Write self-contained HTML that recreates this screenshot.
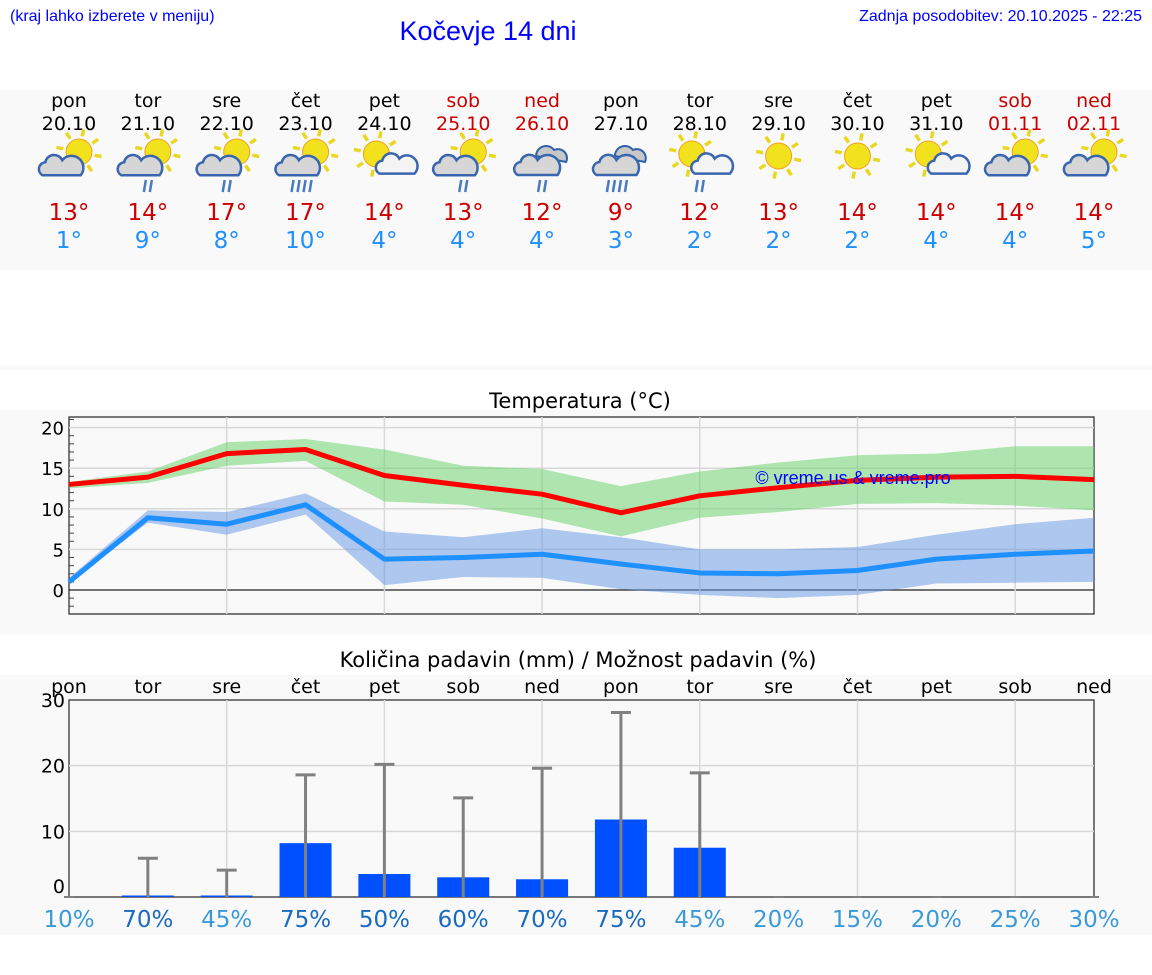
<!DOCTYPE html>
<html><head><meta charset="utf-8">
<style>
body{margin:0;background:#fff;font-family:"DejaVu Sans","Liberation Sans",sans-serif;}
#root{position:relative;width:1152px;height:975px;overflow:hidden;background:#fff;}
</style></head>
<body>
<div id="root">
<svg id="svg" width="1152" height="975" xmlns="http://www.w3.org/2000/svg" font-family="DejaVu Sans, Liberation Sans, sans-serif"></svg>
</div>
<script>
const days=['pon','tor','sre','čet','pet','sob','ned','pon','tor','sre','čet','pet','sob','ned'];
const dates=['20.10','21.10','22.10','23.10','24.10','25.10','26.10','27.10','28.10','29.10','30.10','31.10','01.11','02.11'];
const icons=['pc','pcr','pcr','pcr2','sc','pcr','cr','cr2','scr','s','s','sc','pc','pc'];
const maxT=[13.0,13.9,16.8,17.3,14.1,12.9,11.8,9.5,11.6,12.6,13.5,13.9,14.0,13.6];
const maxHi=[13.3,14.6,18.2,18.6,17.3,15.3,14.9,12.8,14.6,15.7,16.6,16.8,17.7,17.7];
const maxLo=[12.5,13.2,15.3,15.9,10.9,10.5,8.8,6.6,8.9,9.6,10.6,10.7,10.4,9.8];
const minT=[1.0,8.9,8.1,10.5,3.8,4.0,4.4,3.2,2.1,2.0,2.4,3.8,4.4,4.8];
const minHi=[1.5,9.8,9.6,11.9,7.2,6.5,7.6,6.5,5.0,5.0,5.3,6.8,8.1,8.9];
const minLo=[0.8,8.3,6.8,9.3,0.6,1.6,1.5,0.1,-0.6,-1.0,-0.6,0.8,0.9,1.0];
const hiLabels=['13°','14°','17°','17°','14°','13°','12°','9°','12°','13°','14°','14°','14°','14°'];
const loLabels=['1°','9°','8°','10°','4°','4°','4°','3°','2°','2°','2°','4°','4°','5°'];
const precip=[0,0.1,0.1,8.2,3.5,3.0,2.7,11.8,7.5,0,0,0,0,0];
const precipMax=[0,5.9,4.1,18.6,20.2,15.1,19.6,28.1,18.9,0,0,0,0,0];
const chance=[10,70,45,75,50,60,70,75,45,20,15,20,25,30];
const tTicks=[0,5,10,15,20];
const pTicks=[0,10,20,30];

const S=document.getElementById('svg');const NS='http://www.w3.org/2000/svg';
function el(t,a,p){const e=document.createElementNS(NS,t);for(const k in a)e.setAttribute(k,a[k]);(p||S).appendChild(e);return e;}
function tx(x,y,s,size,fill,anchor,name,fam){const e=el('text',{x:x,y:y,'font-size':size,fill:fill,'text-anchor':anchor||'middle'});if(fam)e.setAttribute('font-family',fam);e.textContent=s;

return e;}
const X0=69,X1=1094,DX=(X1-X0)/13;
const xd=i=>X0+i*DX;
const ty=v=>590-v*8.12;
const py=v=>897-v*6.567;
const LS='Liberation Sans, sans-serif';

tx(10,21,'(kraj lahko izberete v meniju)',16,'#0000ff','start','location-menu-hint',LS);
tx(488,40,'Kočevje 14 dni',27,'#0000ff','middle','page-title',LS);
tx(1142,21,'Zadnja posodobitev: 20.10.2025 - 22:25',16,'#0000ff','end','last-update',LS);
el('rect',{x:0,y:90,width:1152,height:180,fill:'#f9f9f9'});
el('rect',{x:0,y:365,width:1152,height:5,fill:'#f9f9f9'});
el('rect',{x:0,y:410,width:1152,height:225,fill:'#f9f9f9'});
el('rect',{x:0,y:675,width:1152,height:260,fill:'#f9f9f9'});

function icon(g,type,cx,cy){
  const sun=type.startsWith('p')||type.startsWith('s');
  const cloud=type!=='s';
  const rain=type.includes('r');
  let sx=cx+10,sy=cy-8,sr=13;
  if(type==='s'){sx=cx;sy=cy-4;}
  if(type.startsWith('sc')){sx=cx-8;sy=cy-6;}
  if(sun){for(let k=0;k<8;k++){const a=k*Math.PI/4+0.2;el('line',{x1:sx+Math.cos(a)*(sr+3),y1:sy+Math.sin(a)*(sr+3),x2:sx+Math.cos(a)*(sr+10),y2:sy+Math.sin(a)*(sr+10),stroke:'#e8d820','stroke-width':3.5},g);}
    el('circle',{cx:sx,cy:sy,r:sr,fill:'#f2e21e',stroke:'#f0a020','stroke-width':1},g);}
  if(cloud){let ccx=cx-6,ccy=cy+6,sc=1.15;
    if(type.startsWith('sc')){ccx=cx+12;ccy=cy+6;sc=0.95;}
    if(type.startsWith('c')){ccx=cx-2;ccy=cy+5;sc=1.25;
      el('path',{d:`M${cx-6} ${cy-4} a10 10 0 0 1 18 -6 a9 9 0 0 1 12 12 z`,fill:'#c8c8c8',stroke:'#3060a8','stroke-width':2},g);}
    const w=18*sc;
    el('path',{d:`M${ccx-w} ${ccy+8*sc} a7 7 0 0 1 3 -13 a9 9 0 0 1 17 -2 a7 7 0 0 1 ${2*w-20*sc} 15 z`,fill:type.startsWith('sc')?'#f4f4f4':'#d6d6d6',stroke:'#3a66b0','stroke-width':2.5},g);}
  if(rain){const n=type.endsWith('2')?4:2;for(let k=0;k<n;k++){const rx=cx-4-(n-2)*5+k*6;el('line',{x1:rx+2,y1:cy+20,x2:rx,y2:cy+32,stroke:'#4a7ac0','stroke-width':2.5},g);}}
}
for(let i=0;i<14;i++){
  const x=xd(i);
  const we=i===5||i===6||i===12||i===13;
  tx(x,107,days[i],19,we?'#cc0000':'#000','middle','day-name');
  tx(x,130,dates[i],19,we?'#cc0000':'#000','middle','day-date');
  const g=el('g',{});
  
  
  icon(g,icons[i],x,160);
  tx(x,220,hiLabels[i],23,'#cc0000','middle','max-temp');
  tx(x,248,loLabels[i],23,'#1e90ff','middle','min-temp');
}
tx(580,408,'Temperatura (°C)',21,'#000','middle','temp-chart-title');
el('rect',{x:X0,y:417,width:X1-X0,height:197,fill:'#f9f9f9',stroke:'#222','stroke-width':1.2});
tTicks.forEach(v=>{el('line',{x1:X0,y1:ty(v),x2:X1,y2:ty(v),stroke:v===0?'#222':'#d8d8d8','stroke-width':v===0?1.2:1.5});
 tx(X0-5,ty(v)+7,String(v),18,'#000','end','temp-y-tick');});
for(let v=-2;v<=21;v++){if(v%5)el('line',{x1:X0,y1:ty(v),x2:X0+5,y2:ty(v),stroke:'#444','stroke-width':1});}
for(let i=2;i<14;i+=2)el('line',{x1:xd(i),y1:417,x2:xd(i),y2:614,stroke:'#d8d8d8','stroke-width':1.5});
function band(hi,lo,fill,name){let d='';hi.forEach((v,i)=>d+=(i?'L':'M')+xd(i)+' '+ty(v));for(let i=lo.length-1;i>=0;i--)d+='L'+xd(i)+' '+ty(lo[i]);
 const p=el('path',{d:d+'Z',fill:fill});}
function line(arr,col,name){const p=el('polyline',{points:arr.map((v,i)=>xd(i)+','+ty(v)).join(' '),fill:'none',stroke:col,'stroke-width':5,'stroke-linejoin':'round'});
 }
band(maxHi,maxLo,'rgba(100,210,100,0.5)','max-temp-range');
band(minHi,minLo,'rgba(100,150,230,0.5)','min-temp-range');
line(maxT,'#ff0000','max-temp-line');
line(minT,'#1e90ff','min-temp-line');
tx(853,484,'© vreme.us & vreme.pro',18,'#0000ff','middle','watermark',LS);
tx(578,667,'Količina padavin (mm) / Možnost padavin (%)',21,'#000','middle','precip-chart-title');
el('rect',{x:X0,y:700,width:X1-X0,height:197,fill:'#f9f9f9',stroke:'#222','stroke-width':1.2});
pTicks.forEach(v=>{if(v>0&&v<30)el('line',{x1:X0,y1:py(v),x2:X1,y2:py(v),stroke:'#d8d8d8','stroke-width':1.5});
 tx(X0-4,v===0?py(v)-4:py(v)+7,String(v),19,'#000','end','precip-y-tick');});
for(let i=2;i<14;i+=2)el('line',{x1:xd(i),y1:700,x2:xd(i),y2:897,stroke:'#d8d8d8','stroke-width':1.5});
for(let i=0;i<14;i++){
  tx(xd(i),693,days[i],19,'#000','middle','precip-day-label');
  if(precip[i]>0){
    const h=Math.max(precip[i]*6.567,1.5);
    const b=el('rect',{x:xd(i)-26,y:897-h,width:52,height:h,fill:'#0050ff'});
    
    
  }
  if(precipMax[i]>0){
    const e=el('g',{});
    
    
    el('line',{x1:xd(i),y1:897,x2:xd(i),y2:py(precipMax[i]),stroke:'#808080','stroke-width':3},e);
    el('line',{x1:xd(i)-10,y1:py(precipMax[i]),x2:xd(i)+10,y2:py(precipMax[i]),stroke:'#808080','stroke-width':3},e);
  } else el('line',{x1:xd(i)-5,y1:897,x2:xd(i)+5,y2:897,stroke:'#808080','stroke-width':2});
  tx(xd(i),927,chance[i]+'%',23,chance[i]>=50?'#1a6ac0':'#3a9ad9','middle','precip-chance');
}
</script>
</body></html>
